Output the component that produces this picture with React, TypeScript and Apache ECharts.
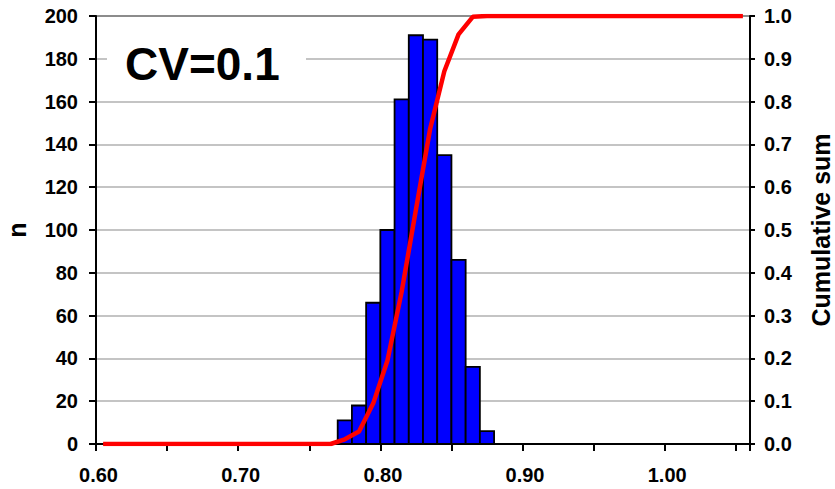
import React, { useEffect, useRef } from "react";
import * as echarts from "echarts";

// Histogram bins (lower and upper edges) and counts
const binLower = [0.77, 0.78, 0.79, 0.8, 0.81, 0.82, 0.83, 0.84, 0.85, 0.86, 0.87];
const binUpper = [0.78, 0.79, 0.8, 0.81, 0.82, 0.83, 0.84, 0.85, 0.86, 0.87, 0.88];
const counts = [11, 18, 66, 100, 161, 191, 189, 135, 86, 36, 6];

// Cumulative sum line (x positions and values)
const cumX = [
  0.605, 0.615, 0.625, 0.635, 0.645, 0.655, 0.665, 0.675, 0.685, 0.695,
  0.705, 0.715, 0.725, 0.735, 0.745, 0.755, 0.765, 0.775, 0.785, 0.795,
  0.805, 0.815, 0.825, 0.835, 0.845, 0.855, 0.865, 0.875, 0.885, 0.895,
  0.905, 0.915, 0.925, 0.935, 0.945, 0.955, 0.965, 0.975, 0.985, 0.995,
  1.005, 1.015, 1.025, 1.035, 1.045, 1.055,
];
const cumY = [
  0, 0, 0, 0, 0, 0, 0, 0, 0, 0,
  0, 0, 0, 0, 0, 0, 0, 0.011, 0.029, 0.095,
  0.195, 0.356, 0.547, 0.736, 0.871, 0.957, 0.998, 1, 1, 1,
  1, 1, 1, 1, 1, 1, 1, 1, 1, 1,
  1, 1, 1, 1, 1, 1,
];

// Axis ranges
const xMin = 0.6;
const xMax = 1.06;
const xStep = 0.05;
const nMax = 200;
const nStep = 20;
const cumMax = 1;
const cumStep = 0.1;

const FONT = "'Liberation Sans', Arial, Helvetica, sans-serif";

export default function App() {
  const ref = useRef<HTMLDivElement>(null);

  useEffect(() => {
    if (!ref.current) return;
    const chart = echarts.init(ref.current, undefined, { renderer: "svg" });

    const barData = binLower.map((lo, i) => [lo, binUpper[i], counts[i]]);
    const lineData = cumX.map((x, i) => [x, cumY[i]]);

    const gridColors: string[] = [];
    for (let i = 0; i < nMax / nStep; i++) gridColors.push("#c4c4c4");
    gridColors.push("#8c8c8c");

    const labelStyle = {
      fontFamily: FONT,
      fontSize: 20,
      fontWeight: "bold" as const,
      color: "#000",
    };

    const option: any = {
      animation: false,
      grid: {
        left: 96,
        right: 85,
        top: 16,
        bottom: 45,
        containLabel: false,
        outerBoundsMode: "none",
      },
      xAxis: {
        type: "value",
        min: xMin,
        max: xMax,
        interval: xStep,
        axisLine: { show: true, onZero: false, lineStyle: { color: "#000", width: 2 } },
        axisTick: { show: true, length: 7, lineStyle: { color: "#000", width: 2 } },
        axisLabel: {
          ...labelStyle,
          margin: 21,
          padding: [0, 0, 0, 5],
          showMinLabel: true,
          showMaxLabel: true,
          hideOverlap: false,
          formatter: (v: number) => {
            const k = Math.round(v * 100);
            if (k % 10 !== 0 || k > 100) return "";
            return v.toFixed(2);
          },
        },
        splitLine: { show: false },
      },
      yAxis: [
        {
          type: "value",
          min: 0,
          max: nMax,
          interval: nStep,
          position: "left",
          name: "n",
          nameLocation: "middle",
          nameRotate: 90,
          nameGap: 67,
          nameMoveOverlap: false,
          nameTextStyle: { fontFamily: FONT, fontSize: 25, fontWeight: "bold", color: "#000" },
          axisLine: { show: true, lineStyle: { color: "#000", width: 2 } },
          axisTick: { show: true, length: 7, lineStyle: { color: "#000", width: 2 } },
          axisLabel: { ...labelStyle, margin: 18, hideOverlap: false },
          splitLine: { show: true, lineStyle: { color: gridColors, width: 2 } },
        },
        {
          type: "value",
          min: 0,
          max: cumMax,
          interval: cumStep,
          position: "right",
          name: "Cumulative sum",
          nameLocation: "middle",
          nameRotate: 90,
          nameGap: 61,
          nameMoveOverlap: false,
          nameTextStyle: {
            fontFamily: FONT,
            fontSize: 25,
            fontWeight: "bold",
            color: "#000",
            lineHeight: 20,
          },
          axisLine: { show: true, lineStyle: { color: "#000", width: 2 } },
          axisTick: { show: true, length: 5, lineStyle: { color: "#000", width: 2 } },
          axisLabel: {
            ...labelStyle,
            margin: 14,
            hideOverlap: false,
            formatter: (v: number) => v.toFixed(1),
          },
          splitLine: { show: false },
        },
      ],
      graphic: [
        {
          type: "rect",
          shape: { x: 107, y: 28, width: 199, height: 64 },
          style: { fill: "#fff" },
          z: 5,
        },
        {
          type: "text",
          x: 125,
          y: 64,
          z: 6,
          style: {
            text: "CV=0.1",
            fontFamily: FONT,
            fontSize: 46,
            fontWeight: "bold",
            fill: "#000",
            textVerticalAlign: "middle",
            verticalAlign: "middle",
          },
        },
      ],
      series: [
        {
          type: "custom",
          xAxisIndex: 0,
          yAxisIndex: 0,
          encode: { x: [0, 1], y: 2 },
          data: barData,
          z: 2,
          renderItem: (params: any, api: any) => {
            const p0 = api.coord([api.value(0), api.value(2)]);
            const p1 = api.coord([api.value(1), 0]);
            return {
              type: "rect",
              shape: { x: p0[0], y: p0[1], width: p1[0] - p0[0], height: p1[1] - p0[1] },
              style: { fill: "#0000ff", stroke: "#000", lineWidth: 1.8 },
            };
          },
        },
        {
          type: "line",
          xAxisIndex: 0,
          yAxisIndex: 1,
          data: lineData,
          showSymbol: false,
          symbol: "none",
          z: 3,
          lineStyle: { color: "#ff0000", width: 4.5 },
        },
      ],
    };

    chart.setOption(option);
    return () => chart.dispose();
  }, []);

  return (
    <div
      ref={ref}
      style={{ position: "fixed", left: 0, top: 0, width: 835, height: 489, background: "#fff" }}
    />
  );
}
